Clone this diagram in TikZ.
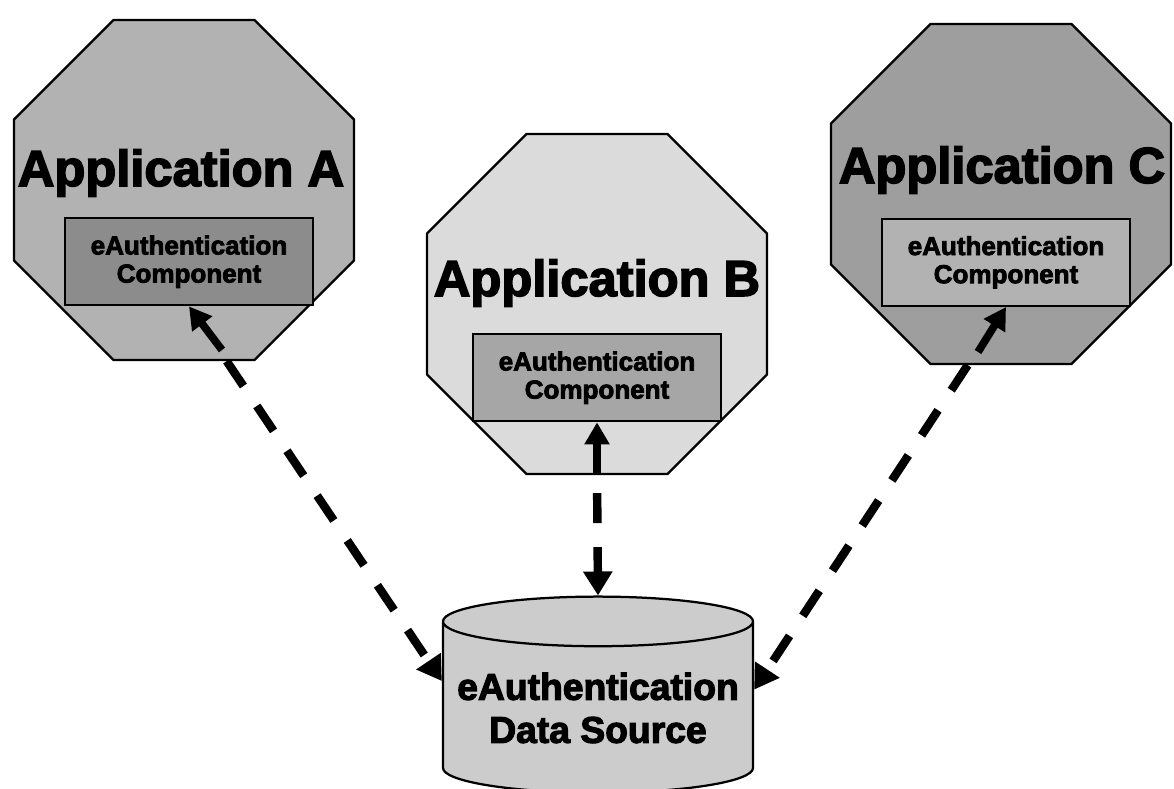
\documentclass[tikz,border=0pt]{standalone}
\usepackage{fontspec}
\setmainfont{Liberation Sans}[BoldFeatures={FakeBold=3}]
\usetikzlibrary{positioning}
\usetikzlibrary{shapes.geometric}
\usetikzlibrary{arrows.meta}

\begin{document}
\begin{tikzpicture}[x=0.025cm, y=-0.025cm,
		app/.style={draw, line width=1.6pt, regular polygon, regular polygon sides=8, minimum size=9.2cm, inner sep=0pt},
		title/.style={font=\bfseries\fontsize{36}{40}\selectfont, anchor=base},
		comp/.style={draw, line width=1.4pt, minimum width=6.2cm, minimum height=2.18cm, align=center, font=\bfseries\fontsize{18.5}{20}\selectfont},
		link/.style={line width=5.5pt, -{Triangle[length=0.55cm, width=0.6cm]}},
		feed/.style={line width=6pt, dash pattern=on 0.75cm off 0.6cm, -{Triangle[length=0.6cm, width=0.7cm]}}]
		\useasboundingbox (0,0) rectangle (1174,788);
		\node (appA) [app, fill=black!30] at (184,190) {};
		\node (appB) [app, fill=black!14] at (597,304) {};
		\node (appC) [app, fill=black!38] at (1001,194) {};
		\node (titleA) [title] at (181,186) {Application A};
		\node (titleB) [title] at (597,296) {Application B};
		\node (titleC) [title] at (1002,183) {Application C};
		\node (compA) [comp, fill=black!45, below=0.78cm of titleA.base, xshift=0.2cm] {eAuthentication\\Component};
		\node (compB) [comp, fill=black!35, below=0.93cm of titleB.base] {eAuthentication\\Component};
		\node (compC) [comp, fill=black!30, below=0.87cm of titleC.base, xshift=0.1cm] {eAuthentication\\Component};
		\node (src) [cylinder, shape border rotate=90, draw, line width=1.6pt, fill=black!20, inner ysep=0pt, inner xsep=3.875cm, minimum width=7.75cm, minimum height=4.9cm, aspect=0.16] at (598,720) {};
		\node (srcLabel) [align=center, font=\bfseries\fontsize{26.5}{30.6}\selectfont] at (598,708) {eAuthentication\\Data Source};
		\coordinate (tailA) at (222,350);
		\coordinate (tailB) at (597,475);
		\coordinate (tailC) at (978,352);
		\draw [link] (tailA) -- (compA.south);
		\draw [link] (tailB) -- (compB.south);
		\draw [link] (tailC) -- (compC.south);
		\draw [feed] (appA.-76) -- (src.166);
		\draw [feed, shorten <=0.45cm] (appB.south) -- (src.90);
		\draw [feed] (appC.-101) -- (src.11.5);
\end{tikzpicture}
\end{document}
